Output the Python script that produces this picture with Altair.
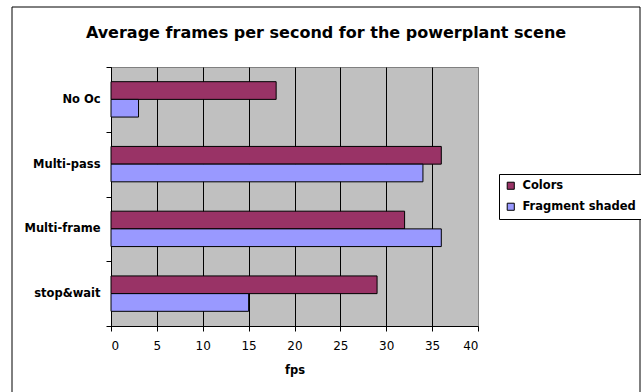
import altair as alt
import pandas as pd

# Benchmark results: average fps per occlusion method and shading mode
methods = ["No Oc", "Multi-pass", "Multi-frame", "stop&wait"]
colors_fps = [18, 36, 32, 29]
fragment_fps = [3, 34, 36, 15]
series = ["Colors", "Fragment shaded"]
series_colors = ["#993366", "#9999FF"]
x_ticks = [0, 5, 10, 15, 20, 25, 30, 35, 40]
chart_title = "Average frames per second for the powerplant scene"

rows = []
for m, c, f in zip(methods, colors_fps, fragment_fps):
    rows.append({"method": m, "series": series[0], "fps": c})
    rows.append({"method": m, "series": series[1], "fps": f})
df = pd.DataFrame(rows)

FONT = "DejaVu Sans"
W, H = 367, 259

bars = alt.Chart(df).mark_bar(stroke="black", strokeWidth=1).encode(
    x=alt.X(
        "fps:Q",
        scale=alt.Scale(domain=[0, 40], nice=False),
        axis=alt.Axis(
            values=x_ticks,
            title="fps",
            titleFont=FONT,
            titleFontSize=11.5,
            titleFontWeight="bold",
            titleColor="black",
            titlePadding=13,
            labelFont=FONT,
            labelFontSize=12,
            labelColor="black",
            labelPadding=9,
            domainColor="black",
            tickColor="black",
            tickSize=5,
            grid=True,
            gridColor=alt.condition("datum.value == 40", alt.value("#808080"), alt.value("black")),
            gridOpacity=1,
            gridWidth=1,
        ),
    ),
    y=alt.Y(
        "method:N",
        sort=methods,
        scale=alt.Scale(paddingInner=0, paddingOuter=0),
        axis=alt.Axis(
            title=None,
            labelFont=FONT,
            labelFontSize=11.5,
            labelFontWeight="bold",
            labelColor="black",
            labelPadding=6,
            domainColor="black",
            tickColor="black",
            tickSize=5,
            tickBand="extent",
            grid=False,
        ),
    ),
    yOffset=alt.YOffset(
        "series:N",
        sort=series,
        scale=alt.Scale(paddingInner=0, paddingOuter=0.83),
    ),
    color=alt.Color(
        "series:N",
        sort=series,
        scale=alt.Scale(domain=series, range=series_colors),
        legend=alt.Legend(
            title=None,
            orient="none",
            legendX=388,
            legendY=107,
            direction="vertical",
            symbolType="square",
            symbolSize=50,
            symbolStrokeColor="black",
            symbolStrokeWidth=1,
            symbolOpacity=1,
            labelFont=FONT,
            labelFontSize=11.5,
            labelFontWeight="bold",
            labelColor="black",
            labelOffset=6,
            rowPadding=8,
            padding=6,
            strokeColor="black",
            fillColor="white",
        ),
    ),
)

# Outer chart frame
frame = alt.Chart(alt.Data(values=[{}])).mark_rect(
    fill=None, stroke="black", strokeWidth=1, clip=False
).encode(
    x=alt.value(-99),
    x2=alt.value(529),
    y=alt.value(-60),
    y2=alt.value(340),
)

# Chart heading, centred over the whole frame
heading = alt.Chart(alt.Data(values=[{}])).mark_text(
    font=FONT, fontSize=16, fontWeight="bold", color="black",
    align="center", baseline="middle",
).encode(
    x=alt.value(215),
    y=alt.value(-34),
    text=alt.value(chart_title),
)

chart = (
    alt.layer(frame, bars, heading)
    .properties(
        width=W,
        height=H,
        autosize=alt.AutoSizeParams(type="none"),
        padding={"left": 111, "top": 67, "right": 163, "bottom": 66},
        background="white",
    )
    .configure_view(fill="#C0C0C0", stroke="#808080", strokeWidth=1)
)

chart.save("out.html", embed_options={"renderer": "svg", "actions": False})
